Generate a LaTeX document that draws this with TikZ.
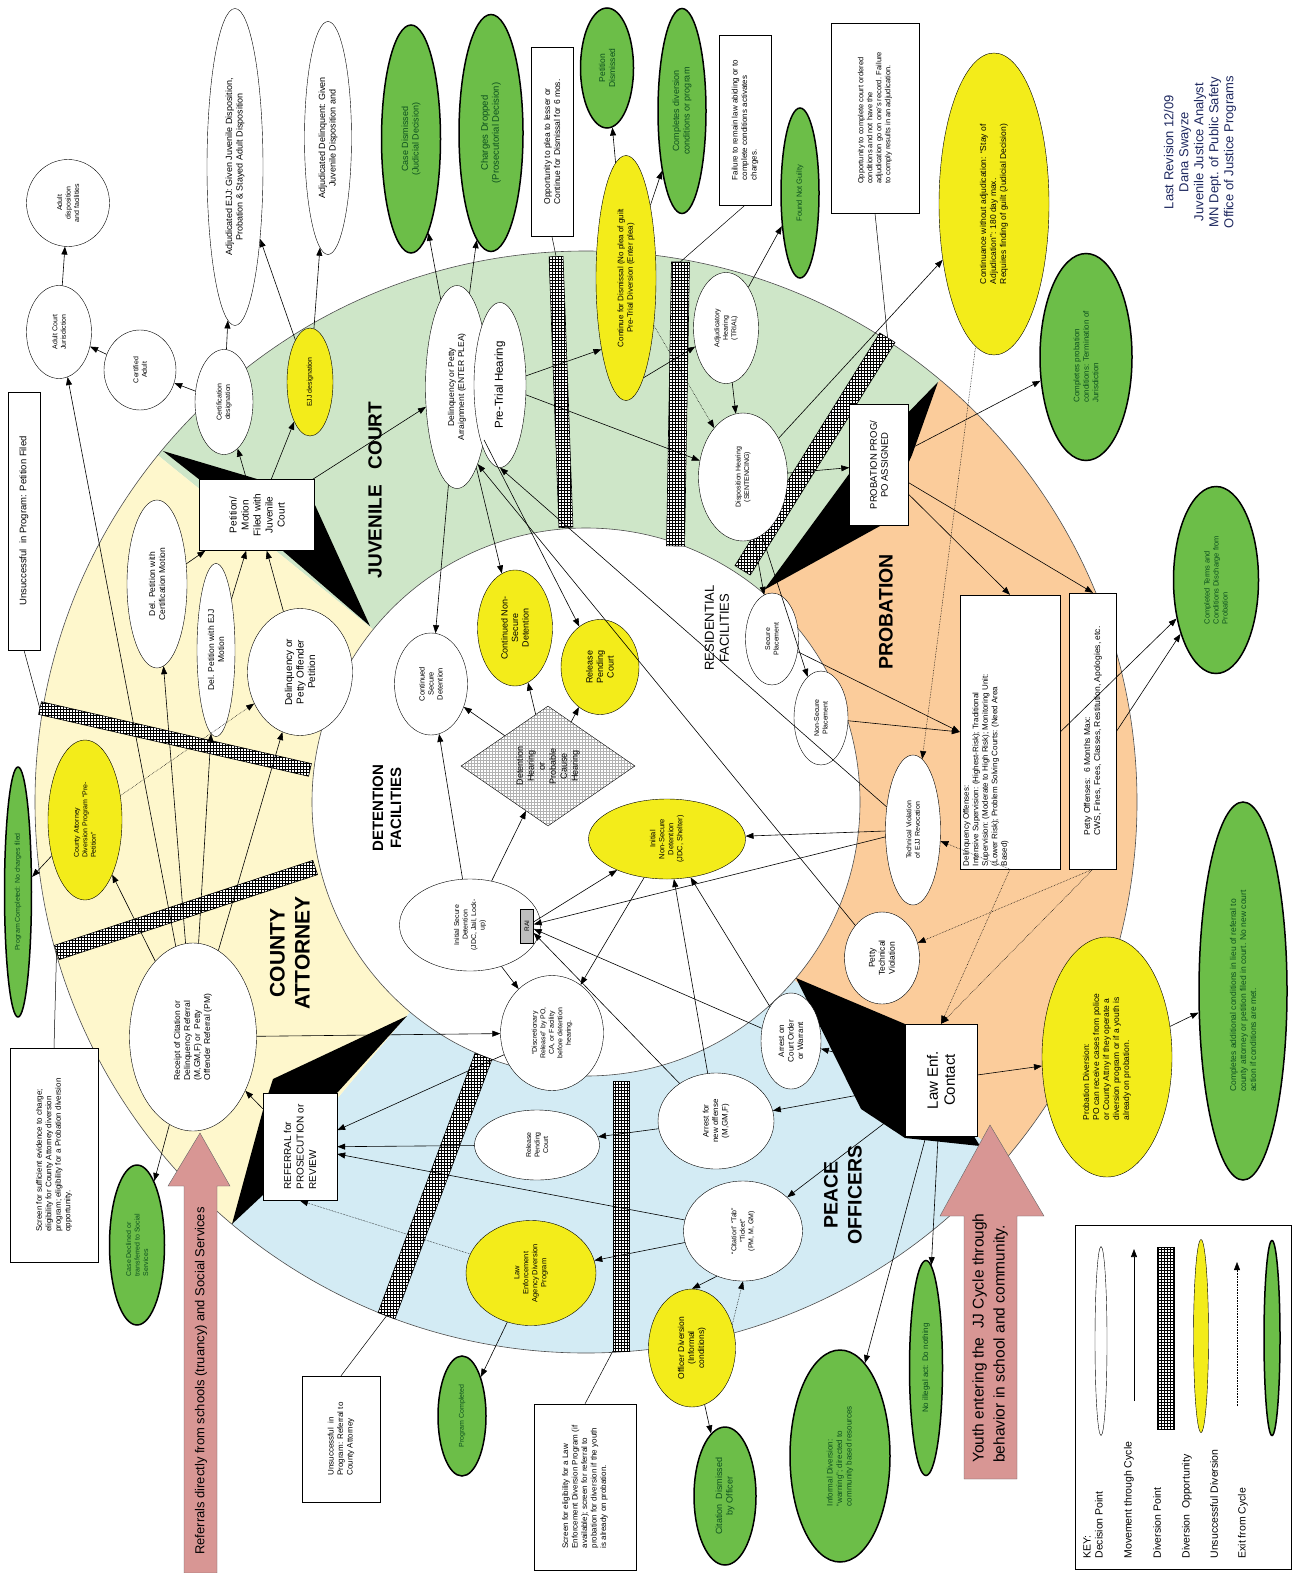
\documentclass[tikz,border=0pt]{standalone}
\usepackage{fontspec}
\setmainfont{Liberation Sans}
\usepackage{tikz}
\usetikzlibrary{shapes.geometric, arrows.meta, patterns, positioning, calc}

\definecolor{jcgreen}{RGB}{206,230,200}
\definecolor{proborange}{RGB}{251,204,155}
\definecolor{poblue}{RGB}{211,235,244}
\definecolor{cayellow}{RGB}{254,247,204}
\definecolor{divyellow}{RGB}{243,236,26}
\definecolor{exitgreen}{RGB}{108,190,72}
\definecolor{exittext}{RGB}{12,80,30}
\definecolor{jjpink}{RGB}{216,150,148}
\definecolor{raigrey}{RGB}{190,190,190}
\definecolor{revblue}{RGB}{30,40,95}

\newcommand{\fz}[2]{\fontsize{#1}{#2}\selectfont}

\pgfdeclarelayer{bg}
\pgfsetlayers{bg,main}

\tikzset{
  dec/.style={ellipse, draw, fill=white, rotate=90, align=center, inner sep=0pt, font=\fz{7}{8.5}},
  divn/.style={dec, fill=divyellow},
  exitnode/.style={dec, fill=exitgreen, line width=1.5pt, text=exittext},
  infobox/.style={rectangle, draw, fill=white, rotate=90, align=left, inner sep=2pt, font=\fz{8}{9.5}},
  sz/.style 2 args={minimum height=#1pt, minimum width=#2pt},
  mv/.style={-{Triangle[length=8pt,width=6pt]}, line width=0.6pt},
  us/.style={mv, densely dotted, line width=0.5pt},
  note/.style={line width=0.5pt},
  hatch/.style={rectangle, draw, line width=0.6pt, preaction={fill=white}, pattern=grid, inner sep=0pt},
  dhear/.style={diamond, draw, rotate=90, align=center, inner sep=0pt, preaction={fill=white}, pattern=grid, pattern color=black!30, font=\fz{9}{11}},
  region/.style={rotate=90, align=center, font=\bfseries\fz{20}{24}},
  keytxt/.style={rotate=90, anchor=west, align=left, font=\fz{10.5}{12}},
  ringline/.style={draw=black!70, line width=0.6pt}
}

\begin{document}
\begin{tikzpicture}[x=1pt, y=-1pt]
\useasboundingbox (0,0) rectangle (1294,1573);

% ---- the four agencies as a ring ----
\begin{pgfonlayer}{bg}
  \begin{scope}[shift={(586,802)}]
    \fill[jcgreen] (0,0) -- plot[domain=219:310, samples=60] (\x:551) -- cycle;
    \fill[proborange] (0,0) -- plot[domain=310:400.5, samples=60] (\x:551) -- cycle;
    \fill[poblue] (0,0) -- plot[domain=40.5:130, samples=60] (\x:551) -- cycle;
    \fill[cayellow] (0,0) -- plot[domain=130:219, samples=60] (\x:551) -- cycle;
    \draw[ringline] (0,0) circle[radius=551];
    \draw[ringline, fill=white] (0,0) circle[radius=274];
  \end{scope}
  % black wedges between agencies
  \fill[black] (163,451) -- (257,479) -- (315,505) -- (370,626) -- (283,551) -- (200,480) -- cycle;
  \fill[black] (764,590) -- (852,470) -- (938,382) -- (912,455) -- (880,526) -- cycle;
  \fill[black] (796,978) -- (905,1024) -- (980,1146) -- (905,1138) -- (861,1109) -- cycle;
  \fill[black] (407,1016) -- (337,1093) -- (263,1195) -- (232,1224) -- (263,1110) -- (273,1079) -- cycle;
  % diversion points
  \node[hatch, rotate=-12.9, minimum width=277pt, minimum height=13pt] (barA) at (175,739) {};
  \node[hatch, rotate=18.2, minimum width=272pt, minimum height=15pt] (barB) at (186,910) {};
  \node[hatch, rotate=-87.9, minimum width=271pt, minimum height=14pt] (barC) at (561,392) {};
  \node[hatch, rotate=-91, minimum width=284pt, minimum height=18pt] (barD) at (678,404) {};
  \node[hatch, rotate=58.1, minimum width=274pt, minimum height=18pt] (barE) at (815,454) {};
  \node[hatch, rotate=-110.5, minimum width=277pt, minimum height=18pt] (barF) at (435,1186) {};
  \node[hatch, rotate=-90, minimum width=270pt, minimum height=16pt] (barG) at (621,1216) {};
\end{pgfonlayer}

% ---- entry arrows ----
\fill[jjpink, draw=black!60] (184,1573) -- (184,1186) -- (168,1186) -- (200,1133) -- (230,1186) -- (217,1186) -- (217,1573) -- cycle;
\node[rotate=90, font=\fz{13}{15}] (schooltxt) at (201,1381) {Referrals directly from schools (truancy) and Social Services};
\fill[jjpink, draw=black!60] (964,1479) -- (964,1216) -- (940,1216) -- (990,1125) -- (1044,1216) -- (1017,1216) -- (1017,1479) -- cycle;
\node[rotate=90, align=left, font=\fz{15.5}{21}] (youthtxt) at (990,1338) {Youth entering the\ \ JJ Cycle through\\behavior in school and community.};

% ---- region labels ----
\node[region, font=\bfseries\fz{19}{22}] (jclabel) at (375,490) {JUVENILE\ \ \ COURT};
\node[region, font=\bfseries\fz{19.5}{22}] (prlabel) at (886,612) {PROBATION};
\node[region, font=\bfseries\fz{21}{25}] (calabel) at (290,953) {COUNTY\\ATTORNEY};
\node[region, font=\bfseries\fz{19.5}{24}] (polabel) at (843,1195) {PEACE\\OFFICERS};
\node[region, font=\bfseries\fz{15}{18}] (dflabel) at (387,808) {DETENTION\\FACILITIES};
\node[region, font=\fz{13}{15}] (rflabel) at (717,628) {RESIDENTIAL\\FACILITIES};

% ---- juvenile court and its exits ----
\node[dec, sz={83}{87}] (adf) at (68,203) {Adult\\disposition\\and facilities};
\node[dec, sz={65}{93}] (acj) at (59,332) {Adult Court\\Jurisdiction};
\node[dec, sz={72}{80}] (cadult) at (140,370) {Certified\\Adult};
\node[dec, sz={56}{317}, font=\fz{9}{10.5}] (adjejj) at (235,167) {Adjudicated EJJ: Given Juvenile Disposition,\\Probation \& Stayed Adult Disposition};
\node[dec, sz={47}{233}, font=\fz{9}{10.5}] (adjdel) at (328,138) {Adjudicated Delinquent: Given\\Juvenile Disposition and};
\node[exitnode, sz={59}{228}, font=\fz{9}{10.5}] (casedis) at (411,139) {Case Dismissed\\(Judicial Decision)};
\node[exitnode, sz={64}{237}, font=\fz{9.5}{11}] (chgdrop) at (491,133) {Charges Dropped\\(Prosecutorial Decision)};
\node[infobox, sz={42}{189}, font=\fz{8.5}{10}] (oppplea) at (552,142) {Opportunity to plea to lesser or\\Continue for Dismissal for 6 mos.};
\node[exitnode, sz={53}{120}, font=\fz{8.5}{10}] (petdis) at (607,68) {Petition\\Dismissed};
\node[exitnode, sz={48}{205}, font=\fz{9}{10.5}] (compdiv) at (682,111) {Completes diversion\\conditions or program};
\node[infobox, sz={52}{170}, font=\fz{8}{9.5}] (failbox) at (745,120) {Failure to remain law abiding or to\\complete conditions activates\\charges.};
\node[exitnode, sz={38}{170}, font=\fz{7.5}{9}] (notguilty) at (800,193) {Found Not Guilty};
\node[infobox, sz={88}{190}, font=\fz{7.5}{9}] (oppbox) at (875,118) {Opportunity to complete court ordered\\conditions and not have the\\adjudication go on one's record. Failure\\to comply results in an adjudication.};
\node[divn, sz={110}{302}, font=\fz{8.5}{10}, align=left] (contin) at (994,204) {Continuance without adjudication: ``Stay of\\Adjudication'': 180 day max.\\Requires finding of guilt (Judicial Decision)};
\node[exitnode, sz={92}{207}, font=\fz{8}{9.5}, align=left] (compprob) at (1086,357) {Completes probation\\conditions: Termination of\\Jurisdiction};
\node[rotate=90, align=center, text=revblue, font=\fz{13}{15}] (revision) at (1200,152) {Last Revision 12/09\\Dana Swayze\\Juvenile Justice Analyst\\MN Dept. of Public Safety\\Office of Justice Programs};
\node[dec, sz={58}{105}] (certdes) at (224,402) {Certification\\designation};
\node[divn, sz={46}{108}] (ejjdes) at (310,382) {EJJ designation};
\node[dec, sz={63}{203}, font=\fz{8.5}{10}] (arraign) at (457,387) {Delinquency or Petty\\Arraignment (ENTER PLEA)};
\node[dec, sz={52}{165}, font=\fz{11.5}{13}] (pretrial) at (500,385) {Pre-Trial Hearing};
\node[divn, sz={60}{245}, font=\fz{8}{9.5}] (contdis) at (626,278) {Continue for Dismissal (No plea of guilt\\Pre-Trial Diversion (Enter plea)};
\node[dec, sz={65}{111}] (adjhear) at (726,328) {Adjudicatory\\Hearing\\(TRIAL)};
\node[dec, sz={89}{128}] (disphear) at (743,477) {Disposition Hearing\\(SENTENCING)};
\node[infobox, sz={59}{121}, align=center, font=\fz{9.5}{11}] (probbox) at (879,465) {PROBATION PROG/\\PO ASSIGNED};
\node[infobox, sz={115}{71}, align=center, font=\fz{10}{12}] (petbox) at (257,515) {Petition/\\Motion\\Filed with\\Juvenile\\Court};

% ---- county attorney ----
\node[dec, sz={60}{168}, font=\fz{8.5}{10}] (delcert) at (157,584) {Del. Petition with\\Certification Motion};
\node[dec, sz={38}{173}, font=\fz{8.5}{10}] (delejj) at (216,650) {Del. Petition with EJJ\\Motion};
\node[dec, sz={105}{127}, font=\fz{10}{11.5}] (delpet) at (300,672) {Delinquency or\\Petty Offender\\Petition};
\node[infobox, sz={32}{258}, font=\fz{9.5}{11}] (unsuc1) at (24,521) {Unsuccessful\ \ in Program: Petition Filed};
\node[dec, sz={127}{188}, font=\fz{8.5}{10}, align=left] (receipt) at (193,1037) {Receipt of Citation or\\Delinquency Referral\\(M,GM,F) or\ \ Petty\\Offender Referral (PM)};
\node[divn, sz={74}{160}, font=\fz{7}{8.5}, align=left] (cadiv) at (85,820) {County Attorney\\Diversion Program ``Pre-\\Petition''};
\node[exitnode, sz={27}{250}, font=\fz{7}{8}] (progcompnc) at (18,892) {Program Completed: No charges filed};
\node[infobox, sz={88}{214}, font=\fz{8}{9.5}] (screenca) at (54,1155) {Screen for sufficient evidence to charge;\\eligibility for County Attorney diversion\\program; eligibility for a Probation diversion\\opportunity.};
\node[exitnode, sz={55}{160}, font=\fz{7}{8.5}, align=left] (casedecl) at (137,1245) {Case Declined or\\transferred to Social\\Services};
\node[infobox, sz={74}{107}, font=\fz{10}{12.5}] (referral) at (300,1147) {REFERRAL for\\PROSECUTION or\\REVIEW};
\node[infobox, sz={78}{126}, font=\fz{8}{9.5}] (unsuc2) at (341,1439) {Unsuccessful\ \ in\\Program: Referral to\\County Attorney};

% ---- detention and residential ----
\node[dec, sz={73}{102}, font=\fz{7.5}{9}] (contsec) at (431,684) {Continued\\Secure\\Detention};
\node[divn, sz={75}{116}, font=\fz{9}{10.5}] (contnon) at (515,628) {Continued Non-\\Secure\\Detention};
\node[divn, sz={78}{95}, font=\fz{9}{10.5}] (relpend) at (600,667) {Release\\Pending\\Court};
\node[dhear, sz={174}{120}] (dethear) at (548,766) {Detention\\Hearing\\or\\Probable\\Cause\\Hearing};
\node[dec, sz={141}{92}, font=\fz{7}{8.5}] (initsec) at (470,925) {Initial Secure\\Detention\\(JDC, Jail, Lock-\\up)};
\node[rectangle, draw, fill=raigrey, rotate=90, sz={13}{34}, inner sep=0pt, font=\fz{6.5}{7}] (rai) at (527,926) {RAI};
\node[divn, sz={157}{80}, font=\fz{7.5}{9}] (initnon) at (667,839) {Initial\\Non-Secure\\Detention\\(JDC, Shelter)};
\node[dec, sz={103}{115}, font=\fz{7}{8.5}] (discrel) at (552,1033) {``Discretionary\\Release'' by PO,\\CA, or Facility\\before detention\\hearing.};
\node[dec, sz={53}{92}] (secplace) at (772,639) {Secure\\Placement};
\node[dec, sz={54}{94}] (nonsec) at (821,718) {Non-Secure\\Placement};

% ---- probation ----
\node[exitnode, sz={85}{187}, font=\fz{7.5}{9}, align=left] (compterms) at (1216,580) {Completed Terms and\\Conditions Discharge from\\Probation};
\node[infobox, sz={100}{274}] (delinbox) at (1010,732) {};
\node[rotate=90, anchor=north west, align=left, font=\fz{8}{9.5}, inner sep=3pt] (delintxt) at (delinbox.north west) {Delinquency Offenses:\\Intensive Supervision: (Highest-Risk); Traditional\\Supervision: (Moderate to High Risk); Monitoring Unit:\\(Lower Risk); Problem Solving Courts: (Need Area\\Based)};
\node[infobox, sz={47}{276}, font=\fz{8.5}{10}] (pettybox) at (1093,731) {Petty Offenses:\ \ 6 Months Max:\\CWS, Fines, Fees, Classes, Restitution, Apologies, etc.};
\node[dec, sz={55}{150}] (techviol) at (913,830) {Technical Violation\\of EJJ Revocation};
\node[dec, sz={75}{92}, font=\fz{8.5}{10}] (pettytech) at (882,958) {Petty\\Technical\\Violation};
\node[infobox, sz={72}{112}, align=center, font=\fz{15}{17}] (lawenf) at (941,1080) {Law Enf.\\Contact};
\node[divn, sz={130}{240}, font=\fz{8.5}{10}, align=left] (probdiv) at (1107,1057) {Probation Diversion:\\PO can receive cases from police\\or County Attny if they operate a\\diversion program or if a youth is\\already on probation.};
\node[exitnode, sz={88}{378}, font=\fz{8.5}{10}, align=left] (compadd) at (1243,991) {Completes additional conditions in lieu of referral to\\county attorney or petition filed in court. No new court\\action if conditions are met.};

% ---- peace officers ----
\node[dec, sz={60}{96}, font=\fz{8}{9.5}] (arrco) at (791,1041) {Arrest on\\Court Order\\or Warrant};
\node[dec, sz={116}{96}, font=\fz{8}{9.5}] (arrnew) at (716,1121) {Arrest for\\new offense\\(M,GM,F)};
\node[dec, sz={125}{70}] (relpendw) at (537,1145) {Release\\Pending\\Court};
\node[dec, sz={119}{100}] (citation) at (743,1231) {``Citation'' ``Tab''\\``Ticket''\\(PM, M, GM)};
\node[divn, sz={130}{105}, font=\fz{7.5}{9}] (leadp) at (531,1273) {Law\\Enforcement\\Agency Diversion\\Program};
\node[exitnode, sz={48}{120}] (progcomp) at (462,1416) {Program Completed};
\node[divn, sz={87}{118}, font=\fz{8.5}{10}] (offdiv) at (692,1348) {Officer Diversion\\(Informal\\conditions)};
\node[exitnode, sz={62}{138}, font=\fz{9}{10.5}] (citdis) at (725,1496) {Citation\ \ Dismissed\\by Officer};
\node[infobox, sz={102}{166}, font=\fz{8}{9.5}] (screenle) at (585,1487) {Screen for eligibility for a Law\\Enforcement Diversion Program (if\\available); screen for referral to\\probation for diversion if the youth\\is already on probation.};
\node[exitnode, sz={100}{212}, font=\fz{8}{9.5}, align=left] (infdiv) at (840,1456) {Informal Diversion:\\``warning''; directed to\\community based resources};
\node[exitnode, sz={33}{215}, font=\fz{8}{9.5}] (noillegal) at (926,1368) {No illegal act: Do nothing};

% ---- key ----
\node[draw, rectangle, minimum width=216pt, minimum height=344pt, inner sep=0pt] (keybox) at (1183,1397) {};
\node[dec, sz={12}{189}] (keydec) at (1101,1341) {};
\coordinate (keymvA) at (1134,1401);
\coordinate (keymvB) at (1134,1249);
\node[hatch, rotate=90, minimum width=182pt, minimum height=17pt] (keybar) at (1166,1338) {};
\node[divn, sz={15}{193}] (keydiv) at (1201,1336) {};
\coordinate (keyusA) at (1237,1406);
\coordinate (keyusB) at (1237,1262);
\node[exitnode, sz={16}{195}] (keyexit) at (1272,1338) {};
\node[keytxt] (keyt1) at (1093,1562) {KEY:\\Decision Point};
\node[keytxt] (keyt2) at (1129,1562) {Movement through Cycle};
\node[keytxt] (keyt3) at (1157,1562) {Diversion Point};
\node[keytxt] (keyt4) at (1187,1562) {Diversion\ \ Opportunity};
\node[keytxt] (keyt5) at (1214,1562) {Unsuccessful Diversion};
\node[keytxt] (keyt6) at (1243,1562) {Exit from Cycle};

% ---- connectors ----
% adult court and juvenile dispositions
\draw[mv] (acj) -- (adf);
\draw[mv] (cadult) -- (acj);
\draw[mv] (certdes) -- (cadult);
\draw[mv] (certdes) -- (adjejj);
\draw[mv] (ejjdes) -- (adjejj);
\draw[mv] (ejjdes) -- (adjdel);
\draw[mv] (petbox) -- (certdes);
\draw[mv] (petbox) -- (ejjdes);
\draw[mv] (petbox) -- (arraign);
\draw[mv] (delcert) -- (petbox);
\draw[mv] (delejj) -- (petbox);
\draw[mv] (delpet) -- (petbox);
% county attorney
\draw[mv] (receipt) -- (acj);
\draw[mv] (receipt) -- (delcert);
\draw[mv] (receipt) -- (delejj);
\draw[mv] (receipt) -- (delpet);
\draw[mv] (receipt) -- (cadiv);
\draw[mv] (cadiv) -- (progcompnc);
\draw[us] (cadiv) -- (delpet);
\draw[mv] (receipt) -- (casedecl);
\draw[mv] (receipt) -- (discrel);
\draw[mv] (referral) -- (receipt);
\draw[note] (unsuc1.west) -- (barA.west);
\draw[note] (screenca.east) -- (barB.west);
% juvenile court
\draw[mv] (arraign) -- (casedis);
\draw[mv] (arraign) -- (chgdrop);
\draw[mv] (pretrial) -- (contdis.161);
\draw[mv] (contdis) -- (petdis);
\draw[mv] (contdis) -- (compdiv);
\draw[mv] (contdis.-170) -- (adjhear);
\draw[us] (contdis) -- (disphear);
\draw[mv] (adjhear) -- (notguilty);
\draw[mv] (adjhear) -- (disphear);
\draw[mv] (pretrial) -- (disphear);
\draw[note] (oppplea.west) -- (barC.west);
\draw[note] (failbox.west) -- (barD.west);
\draw[note] (oppbox.west) -- (barE.east);
% disposition and probation
\draw[mv] (disphear) -- (probbox);
\draw[mv] (disphear) -- (contin);
\draw[mv] (disphear) -- (secplace);
\draw[mv] (disphear) -- (nonsec);
\draw[mv] (probbox) -- (compprob);
\draw[mv] (probbox) -- (delinbox.east);
\draw[mv] (probbox) -- (pettybox.east);
\draw[mv] (secplace) -- (delinbox.north);
\draw[mv] (nonsec) -- (delinbox.north);
\draw[mv] (delinbox.south) -- (compterms);
\draw[mv] (pettybox.south) -- (compterms);
\draw[us] (contin) -- (techviol);
\draw[us] (delinbox.west) -- (techviol);
\draw[us] (delinbox.west) -- (lawenf.east);
\draw[us] (pettybox.west) -- (lawenf.east);
\draw[us] (pettybox.west) -- (pettytech);
\draw[mv] (lawenf) -- (probdiv);
\draw[mv] (probdiv) -- (compadd);
% detention
\draw[mv] (arraign) -- (contsec);
\draw[mv] (arraign) -- (contnon);
\draw[mv] (arraign) -- (relpend);
\draw[mv] (pettytech) -- (arraign.-165);
\draw[mv] (techviol) -- (pretrial.west);
\draw[mv] (techviol) -- (rai);
\draw[mv] (techviol) -- (initnon);
\draw[mv] (initsec) -- (contsec);
\draw[mv] (initsec) -- (dethear);
\draw[mv] (dethear) -- (contsec);
\draw[mv] (dethear) -- (contnon);
\draw[mv] (dethear) -- (relpend);
\draw[mv] (rai) -- (initnon);
\draw[mv] (initsec) -- (discrel);
\draw[mv] (initnon) -- (discrel);
% peace officers
\draw[mv] (lawenf) -- (arrco);
\draw[mv] (lawenf) -- (arrnew);
\draw[mv] (lawenf) -- (citation);
\draw[mv] (lawenf) -- (noillegal);
\draw[mv] (lawenf) -- (infdiv);
\draw[mv] (arrco) -- (rai);
\draw[mv] (arrco) -- (initnon);
\draw[mv] (arrnew) -- (rai);
\draw[mv] (arrnew) -- (initnon);
\draw[mv] (arrnew) -- (relpendw);
\draw[mv] (discrel) -- (referral);
\draw[mv] (relpendw) -- (referral);
\draw[mv] (citation) -- (referral);
\draw[mv] (citation) -- (leadp);
\draw[mv] (citation.150) -- (offdiv.east);
\draw[us] (offdiv.-60) -- (citation.west);
\draw[mv] (offdiv) -- (citdis);
\draw[mv] (leadp) -- (progcomp);
\draw[us] (leadp) -- (referral.west);
\draw[note] (unsuc2.east) -- (barF.east);
\draw[note] (screenle.east) -- (barG.south east);
% key
\draw[mv] (keymvA) -- (keymvB);
\draw[us] (keyusA) -- (keyusB);
\end{tikzpicture}
\end{document}
